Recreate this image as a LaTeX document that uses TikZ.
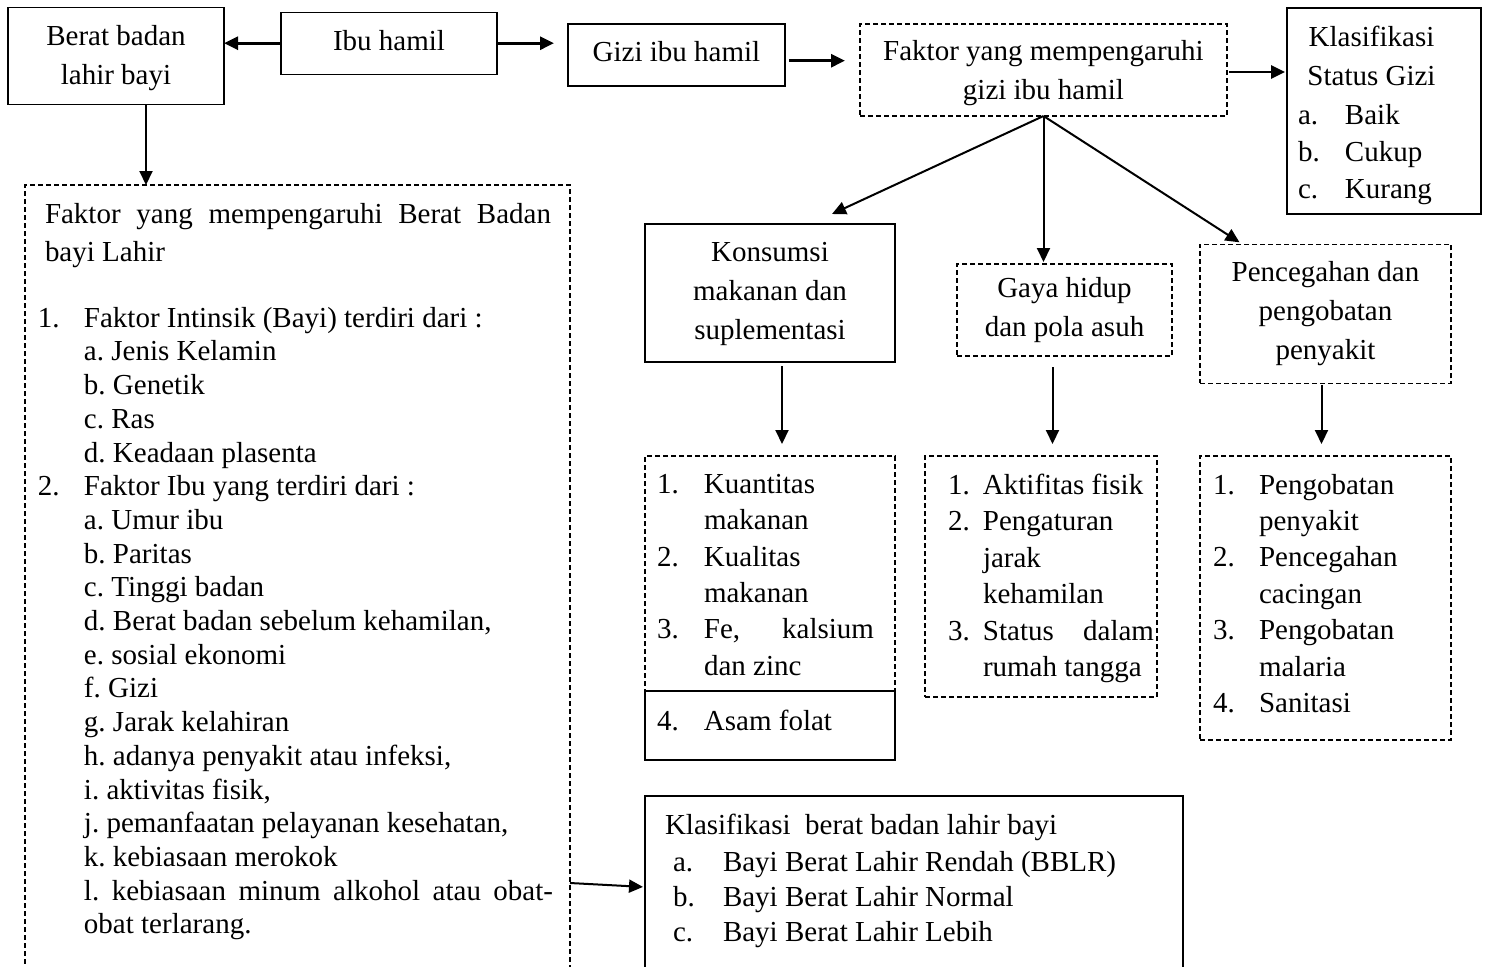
\documentclass[tikz,border=0pt]{standalone}
\usepackage{fontspec}
\setmainfont{Liberation Serif}
\frenchspacing
\usetikzlibrary{arrows.meta,positioning}
\tikzset{>={Triangle[length=7pt,width=6.5pt]},
  sbox/.style={draw,line width=0.6pt,inner sep=0pt,outer sep=0pt,align=flush center,
    font=\fontsize{14.5}{19.5}\selectfont},
  dbox/.style={sbox,dash pattern=on 2.5pt off 1.5pt},
  txt/.style={inner sep=0pt,outer sep=0pt,anchor=north west,align=flush left},
  conn/.style={->,line width=1pt},
  wconn/.style={->,line width=1.4pt}}
\newcommand{\nm}[2]{\makebox[#1][l]{#2}}
\newcommand{\just}[2]{\makebox[#1][s]{\spaceskip=0pt\xspaceskip=0pt\relax #2}}
\newcommand{\up}[1]{\rule{0pt}{#1}}
\newcommand{\dn}[1]{\rule[-#1]{0pt}{#1}}

\begin{document}
\begin{tikzpicture}[x=0.5pt,y=-0.5pt]
\useasboundingbox (0,0) rectangle (1489,966);
\clip (0,0) rectangle (1489,966);

  % top row
  \node[sbox,minimum width=108pt,minimum height=48.5pt] (berat) at (116,56) {\up{12.3pt}Berat badan\\lahir bayi};
  \node[sbox,minimum width=108pt,minimum height=31pt] (ibu) at (389,43.2) {Ibu hamil\dn{3.1pt}};
  \node[sbox,minimum width=108.5pt,minimum height=31pt] (gizi) at (676.5,55) {Gizi ibu hamil\dn{3.2pt}};
  \node[dbox,minimum width=183.5pt,minimum height=46pt] (fgizi) at (1043.5,70) {\up{13.6pt}Faktor yang mempengaruhi\\gizi ibu hamil};
  \node[sbox,minimum width=97pt,minimum height=103pt] (kgizi) at (1384,111) {};
  \node[txt,text width=73.5pt,font=\fontsize{14.5}{18.5}\selectfont] (kgtxt) at (1298,26)
    {\makebox[\linewidth]{Klasifikasi}\\[1pt]
     \makebox[\linewidth]{Status Gizi}\\[1pt]
     \nm{23.5pt}{a.}Baik\\ \nm{23.5pt}{b.}Cukup\\ \nm{23.5pt}{c.}Kurang};

  % second row
  \node[sbox,minimum width=125pt,minimum height=69pt] (konsumsi) at (770,293) {\up{10.5pt}Konsumsi\\makanan dan\\suplementasi};
  \node[dbox,minimum width=107.5pt,minimum height=46pt] (gaya) at (1064.5,310) {\up{10.5pt}Gaya hidup\\dan pola asuh};
  \node[dbox,minimum width=125.5pt,minimum height=69.5pt] (cegah) at (1325.5,313.8) {Pencegahan dan\\pengobatan\\penyakit};

  % lists
  \node[dbox,minimum width=125pt,minimum height=117.5pt] (klist) at (770,573.5) {};
  \node[sbox,minimum width=125pt,minimum height=34.5pt,below=0pt of klist] (asam) {};
  \node[dbox,minimum width=116pt,minimum height=120.5pt] (glist) at (1041,576.5) {};
  \node[dbox,minimum width=125.5pt,minimum height=142pt] (plist) at (1325.5,598) {};

  \node[txt,text width=112pt,font=\fontsize{14.5}{18.2}\selectfont] (kltxt) at (657,474)
    {\nm{23.5pt}{1.}Kuantitas\\ \hspace*{23.5pt}makanan\\
     \nm{23.5pt}{2.}Kualitas\\ \hspace*{23.5pt}makanan\\
     \just{108.5pt}{\nm{23.5pt}{3.}Fe, kalsium}\\ \hspace*{23.5pt}dan zinc};
  \node[txt,font=\fontsize{14.5}{18.2}\selectfont] (astxt) at (657,710) {\nm{23.5pt}{4.}Asam folat};
  \node[txt,text width=106pt,font=\fontsize{14.5}{18.2}\selectfont] (gltxt) at (948,474)
    {\nm{17.5pt}{1.}Aktifitas fisik\\ \nm{17.5pt}{2.}Pengaturan\\
     \hspace*{17.5pt}jarak\\ \hspace*{17.5pt}kehamilan\\
     \just{103pt}{\nm{17.5pt}{3.}Status dalam}\\ \hspace*{17.5pt}rumah tangga};
  \node[txt,text width=112pt,font=\fontsize{14.5}{18.2}\selectfont] (pltxt) at (1213,474)
    {\nm{23pt}{1.}Pengobatan\\ \hspace*{23pt}penyakit\\
     \nm{23pt}{2.}Pencegahan\\ \hspace*{23pt}cacingan\\
     \nm{23pt}{3.}Pengobatan\\ \hspace*{23pt}malaria\\
     \nm{23pt}{4.}Sanitasi};

  % left box, open at the bottom
  \node[dbox,anchor=north,minimum width=272.5pt,minimum height=420pt] (lbox) at (297.5,185) {};
  \node[txt,text width=260pt,font=\fontsize{14.5}{16.85}\selectfont] (lbtxt) at (38,203)
    {\hspace*{3.5pt}\just{253pt}{Faktor yang mempengaruhi Berat Badan}\\[2.5pt]
     \hspace*{3.5pt}bayi Lahir\\[15.85pt]
     \nm{23pt}{1.}Faktor Intinsik (Bayi) terdiri dari :\\
     \hspace*{23pt}a. Jenis Kelamin\\
     \hspace*{23pt}b. Genetik\\
     \hspace*{23pt}c. Ras\\
     \hspace*{23pt}d. Keadaan plasenta\\
     \nm{23pt}{2.}Faktor Ibu yang terdiri dari :\\
     \hspace*{23pt}a. Umur ibu\\
     \hspace*{23pt}b. Paritas\\
     \hspace*{23pt}c. Tinggi badan\\
     \hspace*{23pt}d. Berat badan sebelum kehamilan,\\
     \hspace*{23pt}e. sosial ekonomi\\
     \hspace*{23pt}f. Gizi\\
     \hspace*{23pt}g. Jarak kelahiran\\
     \hspace*{23pt}h. adanya penyakit atau infeksi,\\
     \hspace*{23pt}i. aktivitas fisik,\\
     \hspace*{23pt}j. pemanfaatan pelayanan kesehatan,\\
     \hspace*{23pt}k. kebiasaan merokok\\
     \hspace*{23pt}\just{234.5pt}{l. kebiasaan minum alkohol atau obat-}\\
     \hspace*{23pt}obat terlarang.};

  % bottom box, open at the bottom
  \node[sbox,anchor=north,minimum width=269pt,minimum height=110pt] (kbbl) at (914,796) {};
  \node[txt,font=\fontsize{14.5}{17.5}\selectfont] (kbtxt) at (665,814)
    {Klasifikasi\ \ berat badan lahir bayi\\[1pt]
     \hspace*{4pt}\nm{25pt}{a.}Bayi Berat Lahir Rendah (BBLR)\\
     \hspace*{4pt}\nm{25pt}{b.}Bayi Berat Lahir Normal\\
     \hspace*{4pt}\nm{25pt}{c.}Bayi Berat Lahir Lebih};

  % connectors
  \draw[wconn] (ibu.west) -- (ibu.west -| berat.east);
  \draw[wconn,shorten >=7pt] (ibu.east) -- (ibu.east -| gizi.west);
  \draw[wconn,shorten <=2pt,shorten >=7.5pt] ([yshift=-2.85pt]gizi.east) -- ([yshift=-2.85pt]gizi.east -| fgizi.west);
  \draw[wconn,shorten <=1pt,shorten >=1pt] ([yshift=-1pt]fgizi.east) -- ([yshift=-1pt]fgizi.east -| kgizi.west);
  \draw[conn] (fgizi.south) -- ([xshift=31pt,yshift=5pt]konsumsi.north);
  \draw[conn,shorten >=1pt] (fgizi.south) -- (fgizi.south |- gaya.north);
  \draw[conn] (fgizi.south) -- ([xshift=-43pt,yshift=1pt]cegah.north);
  \draw[conn,shorten <=2pt,shorten >=6pt] ([xshift=6pt]konsumsi.south) -- ([xshift=6pt]konsumsi.south |- klist.north);
  \draw[conn,shorten <=5.5pt,shorten >=6pt] ([xshift=-6pt]gaya.south) -- ([xshift=-6pt]gaya.south |- glist.north);
  \draw[conn,shorten <=1pt,shorten >=6pt] ([xshift=-2pt]cegah.south) -- ([xshift=-2pt]cegah.south |- plist.north);
  \draw[conn] ([xshift=15pt]berat.south) -- ([xshift=15pt]berat.south |- lbox.north);
  \draw[conn,shorten >=1pt] ([yshift=-349pt]lbox.north east) -- ([yshift=-45.5pt]kbbl.north west);

\end{tikzpicture}
\end{document}
